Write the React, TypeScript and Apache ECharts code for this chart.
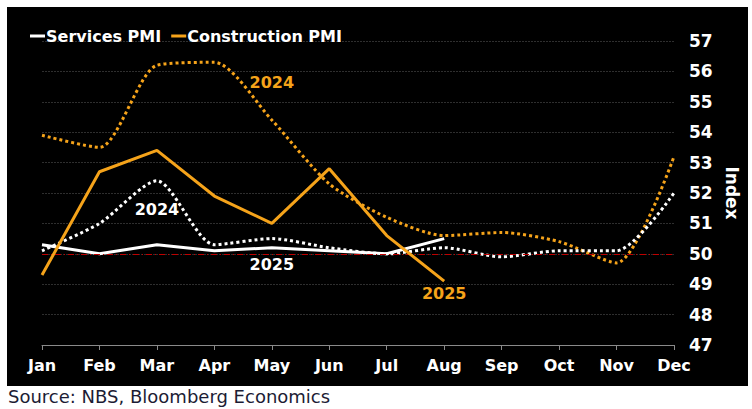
import React, { useEffect, useRef } from "react";
import * as echarts from "echarts";

const months = ["Jan", "Feb", "Mar", "Apr", "May", "Jun", "Jul", "Aug", "Sep", "Oct", "Nov", "Dec"];
const services2025 = [50.3, 50.0, 50.3, 50.1, 50.2, 50.1, 50.0, 50.5];
const construction2025 = [49.3, 52.7, 53.4, 51.9, 51.0, 52.8, 50.6, 49.1];
const services2024 = [50.1, 51.0, 52.4, 50.3, 50.5, 50.2, 50.0, 50.2, 49.9, 50.1, 50.1, 52.0];
const construction2024 = [53.9, 53.5, 56.2, 56.3, 54.4, 52.3, 51.2, 50.6, 50.7, 50.4, 49.7, 53.2];
const yMin = 47;
const yMax = 57;
const refLine = 50;
const annotations = [
  { text: "2024", coord: [4.11, 55.65], color: "#f5a31a" },
  { text: "2024", coord: [1.88, 51.47], color: "#ffffff" },
  { text: "2025", coord: [3.61, 49.66], color: "#ffffff" },
  { text: "2025", coord: [6.88, 48.71], color: "#f5a31a" },
];

const WHITE = "#ffffff";
const ORANGE = "#f5a31a";
const FONT = "DejaVu Sans";

export default function App() {
  const ref = useRef<HTMLDivElement>(null);
  useEffect(() => {
    document.body.style.margin = "0";
    if (!ref.current) return;
    const chart = echarts.init(ref.current, null, { renderer: "svg" });
    const ann = (color: string) =>
      annotations
        .filter((a) => a.color === color)
        .map((a) => ({
          coord: a.coord,
          symbolSize: 0,
          label: {
            show: true,
            formatter: a.text,
            color: a.color,
            fontFamily: FONT,
            fontWeight: "bold",
            fontSize: 16,
            position: "inside",
          },
        }));
    chart.setOption({
      animation: false,
      backgroundColor: "#ffffff",
      graphic: [
        {
          type: "rect",
          z: -10,
          silent: true,
          shape: { x: 7, y: 7, width: 741, height: 379 },
          style: { fill: "#000000" },
        },
        {
          type: "text",
          left: 8,
          top: 387,
          style: {
            text: "Source: NBS, Bloomberg Economics",
            fill: "#1c1c34",
            font: `18px ${FONT}`,
          },
        },
      ],
      legend: {
        left: 25,
        top: 23,
        itemWidth: 15,
        itemHeight: 3,
        itemGap: 10,
        icon: "rect",
        data: [
          { name: "Services PMI", itemStyle: { color: WHITE } },
          { name: "Construction PMI", itemStyle: { color: ORANGE } },
        ],
        textStyle: { color: WHITE, fontFamily: FONT, fontWeight: "bold", fontSize: 16, padding: [0, 0, 0, -4] },
      },
      grid: { left: 42, right: 78, top: 41, bottom: 64 },
      xAxis: {
        type: "category",
        data: months,
        boundaryGap: false,
        axisLine: { lineStyle: { color: "#8a8a8a", width: 1 } },
        axisTick: { show: true, length: 5, lineStyle: { color: "#8a8a8a" } },
        axisLabel: { color: WHITE, fontFamily: FONT, fontWeight: "bold", fontSize: 16, margin: 12 },
        splitLine: { show: false },
      },
      yAxis: {
        type: "value",
        position: "right",
        min: yMin,
        max: yMax,
        interval: 1,
        name: "Index",
        nameLocation: "middle",
        nameRotate: -90,
        nameGap: 48,
        nameTextStyle: { color: WHITE, fontFamily: FONT, fontWeight: "bold", fontSize: 17 },
        axisLine: { show: false },
        axisTick: { show: false },
        axisLabel: { color: WHITE, fontFamily: FONT, fontWeight: "bold", fontSize: 17, margin: 15 },
        splitLine: { show: true, lineStyle: { color: "#2e2e2e", width: 1, type: [2, 1] } },
      },
      series: [
        {
          name: "Construction 2024",
          type: "line",
          data: construction2024,
          smooth: 0.25,
          showSymbol: false,
          lineStyle: { color: ORANGE, width: 3, type: [3, 3] },
          z: 3,
          markPoint: { symbol: "circle", data: ann(ORANGE) },
        },
        {
          name: "Services 2024",
          type: "line",
          data: services2024,
          smooth: 0.25,
          showSymbol: false,
          lineStyle: { color: WHITE, width: 3, type: [3, 3] },
          z: 3,
          markPoint: { symbol: "circle", data: ann(WHITE) },
          markLine: {
            silent: true,
            symbol: "none",
            label: { show: false },
            lineStyle: { color: "#c00000", width: 1, type: [6, 3, 1, 3] },
            data: [{ yAxis: refLine }],
          },
        },
        {
          name: "Services PMI",
          type: "line",
          data: services2025,
          showSymbol: false,
          lineStyle: { color: WHITE, width: 3 },
          itemStyle: { color: WHITE },
          z: 4,
        },
        {
          name: "Construction PMI",
          type: "line",
          data: construction2025,
          showSymbol: false,
          lineStyle: { color: ORANGE, width: 3 },
          itemStyle: { color: ORANGE },
          z: 5,
        },
      ],
    });
    return () => chart.dispose();
  }, []);
  return <div ref={ref} style={{ width: 752, height: 409 }} />;
}
